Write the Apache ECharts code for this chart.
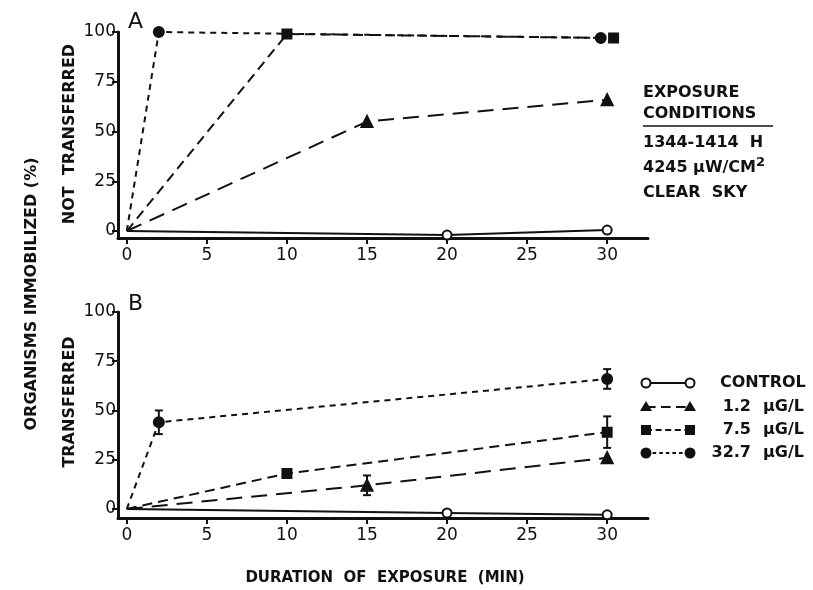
<!DOCTYPE html>
<html>
<head>
<meta charset="utf-8">
<script src="https://cdn.jsdelivr.net/npm/echarts@6/dist/echarts.min.js"></script>
<style>
  html, body { margin: 0; padding: 0; background: #fff; }
  #chart { width: 813px; height: 590px; }
</style>
</head>
<body>
<div id="chart"></div>
<script>
// minutes of exposure for each group
const timesControl = [0, 20, 30]
const timesLow = [0, 15, 30]
const timesMidA = [0, 10, 30.4]
const timesHighA = [0, 2, 29.6]
const timesMidB = [0, 10, 30]
const timesHighB = [0, 2, 30]

// panel A: not transferred (%)
const notTransControl = [0, -2, 0.5]
const notTransLow = [0, 55, 66]
const notTransMid = [0, 99, 97]
const notTransHigh = [0, 100, 97]

// panel B: transferred (%)
const transControl = [0, -2, -3]
const transLow = [0, 12, 26]
const transMid = [0, 18, 39]
const transHigh = [0, 44, 66]
// +/- half-width of error bars (0 = none drawn)
const transLowErr = [0, 5, 0]
const transMidErr = [0, 0, 8]
const transHighErr = [0, 6, 5]

const xTicks = [0, 5, 10, 15, 20, 25, 30]
const yTicks = [0, 25, 50, 75, 100]

const groups = ['CONTROL', '1.2', '7.5', '32.7']

const FONT = 'DejaVu Sans'
const BOLD = 'bold 16px ' + FONT
const ink = '#111'

// first point (origin) carries no marker in the original
const pairs = (xs, ys) => xs.map((x, i) => i === 0 ? { value: [x, ys[i]], symbol: 'none' } : [x, ys[i]])

const styles = [
  { symbol: 'emptyCircle', size: 9, dash: 'solid' },
  { symbol: 'triangle', size: 11, dash: [16, 9] },
  { symbol: 'rect', size: 9, dash: [10, 6] },
  { symbol: 'circle', size: 10, dash: [6, 5] },
]

function xAxisFor(grid) {
  return {
    gridIndex: grid, type: 'value', min: -0.55, max: 32.55,
    axisLine: { onZero: false, lineStyle: { color: ink, width: 3 } },
    axisTick: { customValues: xTicks, length: 6, lineStyle: { color: ink, width: 2 } },
    axisLabel: { customValues: xTicks, color: ink, fontSize: 17, fontFamily: FONT, margin: 9 },
    splitLine: { show: false },
  }
}

function yAxisFor(grid, min) {
  return {
    gridIndex: grid, type: 'value', min: min, max: 100,
    axisLine: { show: true, onZero: false, lineStyle: { color: ink, width: 3 } },
    axisTick: { show: true, customValues: yTicks, length: 6, lineStyle: { color: ink, width: 2 } },
    axisLabel: { customValues: yTicks, color: ink, fontSize: 17, fontFamily: FONT, margin: 2 },
    splitLine: { show: false },
  }
}

function lineSeries(idx, data, k) {
  const s = styles[k]
  return {
    type: 'line', xAxisIndex: idx, yAxisIndex: idx, data: data,
    symbol: s.symbol, symbolSize: s.size, showAllSymbol: true,
    lineStyle: { color: ink, width: 2, type: s.dash },
    itemStyle: { color: ink, borderColor: ink, borderWidth: 2 },
    silent: true, clip: false, z: 3,
  }
}

// error bars for panel B
const errData = []
;[[timesLow, transLow, transLowErr], [timesMidB, transMid, transMidErr], [timesHighB, transHigh, transHighErr]]
  .forEach(([xs, ys, es]) => xs.forEach((x, i) => {
    if (es[i] > 0) errData.push([x, ys[i] - es[i], ys[i] + es[i]])
  }))

const errSeries = {
  type: 'custom', xAxisIndex: 1, yAxisIndex: 1, data: errData, silent: true, z: 4,
  renderItem: function (params, api) {
    const top = api.coord([api.value(0), api.value(2)])
    const bot = api.coord([api.value(0), api.value(1)])
    const st = { stroke: ink, lineWidth: 2 }
    return {
      type: 'group',
      children: [
        { type: 'line', shape: { x1: top[0], y1: top[1], x2: bot[0], y2: bot[1] }, style: st },
        { type: 'line', shape: { x1: top[0] - 4, y1: top[1], x2: top[0] + 4, y2: top[1] }, style: st },
        { type: 'line', shape: { x1: bot[0] - 4, y1: bot[1], x2: bot[0] + 4, y2: bot[1] }, style: st },
      ],
    }
  },
}

// legend drawn by hand: line with a marker at each end
const legendItems = []
const legendRows = [383, 407, 430, 453]
groups.forEach((g, k) => {
  const y = legendRows[k]
  const s = styles[k]
  legendItems.push({
    type: 'line', shape: { x1: 646, y1: y, x2: 690, y2: y },
    style: { stroke: ink, lineWidth: 2, lineDash: s.dash === 'solid' ? null : [s.dash[0] * 0.6, s.dash[1] * 0.6] },
  })
  ;[646, 690].forEach(cx => {
    if (s.symbol === 'triangle') {
      legendItems.push({ type: 'polygon', shape: { points: [[cx, y - 6], [cx - 6, y + 4], [cx + 6, y + 4]] }, style: { fill: ink } })
    } else if (s.symbol === 'rect') {
      legendItems.push({ type: 'rect', shape: { x: cx - 5, y: y - 5, width: 10, height: 10 }, style: { fill: ink } })
    } else {
      legendItems.push({ type: 'circle', shape: { cx: cx, cy: y, r: 4.5 }, style: { fill: s.symbol === 'circle' ? ink : '#fff', stroke: ink, lineWidth: 2 } })
    }
  })
  if (k === 0) {
    legendItems.push({ type: 'text', x: 720, y: y, style: { text: g, font: BOLD, fill: ink, verticalAlign: 'middle' } })
  } else {
    legendItems.push({ type: 'text', x: 751, y: y, style: { text: g, font: BOLD, fill: ink, align: 'right', verticalAlign: 'middle' } })
    legendItems.push({ type: 'text', x: 763, y: y, style: { text: 'μG/L', font: BOLD, fill: ink, verticalAlign: 'middle' } })
  }
})

const txt = (x, y, text, extra) => Object.assign({
  type: 'text', x: x, y: y,
  style: { text: text, font: BOLD, fill: ink, verticalAlign: 'middle' },
}, extra || {})

const vtxt = (x, y, text) => ({
  type: 'text', x: x, y: y, rotation: Math.PI / 2,
  style: { text: text, font: BOLD, fill: ink, align: 'center', verticalAlign: 'middle' },
})

const option = {
  backgroundColor: '#fff',
  animation: false,
  grid: [
    { left: 118, top: 32, width: 530, height: 206 },
    { left: 118, top: 312, width: 530, height: 206 },
  ],
  xAxis: [xAxisFor(0), xAxisFor(1)],
  yAxis: [yAxisFor(0, -3.5), yAxisFor(1, -4.6)],
  series: [
    lineSeries(0, pairs(timesControl, notTransControl), 0),
    lineSeries(0, pairs(timesLow, notTransLow), 1),
    lineSeries(0, pairs(timesMidA, notTransMid), 2),
    lineSeries(0, pairs(timesHighA, notTransHigh), 3),
    lineSeries(1, pairs(timesControl, transControl), 0),
    lineSeries(1, pairs(timesLow, transLow), 1),
    lineSeries(1, pairs(timesMidB, transMid), 2),
    lineSeries(1, pairs(timesHighB, transHigh), 3),
    errSeries,
  ],
  graphic: [
    txt(128, 22, 'A', { style: { text: 'A', font: '22px ' + FONT, fill: ink, verticalAlign: 'middle' } }),
    txt(128, 304, 'B', { style: { text: 'B', font: '22px ' + FONT, fill: ink, verticalAlign: 'middle' } }),
    txt(643, 93, 'EXPOSURE'),
    txt(643, 114, 'CONDITIONS'),
    { type: 'line', shape: { x1: 643, y1: 126, x2: 773, y2: 126 }, style: { stroke: ink, lineWidth: 1.5 } },
    txt(643, 143, '1344-1414  H'),
    {
      type: 'text', x: 643, y: 168,
      style: {
        text: '4245 μW/CM{s|2}', font: BOLD, fill: ink, verticalAlign: 'middle',
        rich: { s: { fontSize: 13, fontWeight: 'bold', fontFamily: FONT, verticalAlign: 'top', padding: [0, 0, 10, 0] } },
      },
    },
    txt(643, 193, 'CLEAR  SKY'),
    vtxt(32, 294, 'ORGANISMS IMMOBILIZED (%)'),
    vtxt(70, 134, 'NOT  TRANSFERRED'),
    vtxt(70, 402, 'TRANSFERRED'),
    txt(385, 578, '', { style: { text: 'DURATION  OF  EXPOSURE  (MIN)', font: 'bold 15px ' + FONT, fill: ink, align: 'center', verticalAlign: 'middle' } }),
  ].concat(legendItems),
}

const myChart = echarts.init(document.getElementById('chart'))
myChart.setOption(option)
</script>
</body>
</html>
